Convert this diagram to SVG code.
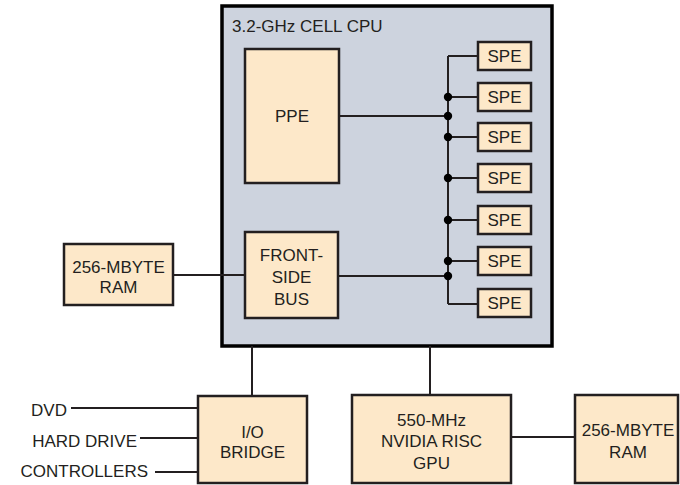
<svg xmlns="http://www.w3.org/2000/svg" width="680" height="485" viewBox="0 0 680 485">
<style>
text{font-family:"Liberation Sans",Arial,sans-serif;font-size:17px;fill:#231f20}
.c{text-anchor:middle}
.r{text-anchor:end}
.box{fill:#fde8c9;stroke:#231f20;stroke-width:2.5}
.ln{stroke:#231f20;stroke-width:2;fill:none}
.dot{fill:#000}
</style>
<rect width="680" height="485" fill="#fff"/>
<g id="cpu">
<rect x="222" y="6" width="330" height="340" fill="#cdd3de" stroke="#000" stroke-width="3.5"/>
<text x="232" y="32">3.2-GHz CELL CPU</text>
</g>
<g id="connectors">
<path class="ln" d="M448 56V304M448 56H478M448 304H478"/>
<path class="ln" d="M448 97H478M448 137H478M448 178H478M448 220H478M448 261H478"/>
<path class="ln" d="M339 116H448M338 276H448"/>
<path class="ln" d="M173 275H245"/>
<path class="ln" d="M252 346V396M430 346V395M511 437H575"/>
<path class="ln" d="M71 408H198M140 438H198M155 472H198"/>
<circle class="dot" cx="448" cy="97" r="4.2"/>
<circle class="dot" cx="448" cy="116" r="4.2"/>
<circle class="dot" cx="448" cy="137" r="4.2"/>
<circle class="dot" cx="448" cy="178" r="4.2"/>
<circle class="dot" cx="448" cy="220" r="4.2"/>
<circle class="dot" cx="448" cy="261" r="4.2"/>
<circle class="dot" cx="448" cy="276" r="4.2"/>
</g>
<g id="ppe"><rect class="box" x="245" y="49" width="94" height="134"/><text class="c" x="292" y="122">PPE</text></g>
<g id="fsb"><rect class="box" x="245" y="232" width="93" height="86"/>
<text class="c" x="291.5" y="261">FRONT-</text><text class="c" x="291.5" y="283">SIDE</text><text class="c" x="291.5" y="305">BUS</text></g>
<g id="ram1"><rect class="box" x="64" y="244" width="109" height="61"/>
<text class="c" x="118.5" y="273">256-MBYTE</text><text class="c" x="118.5" y="293">RAM</text></g>
<g id="spe1"><rect class="box" x="478" y="42" width="53" height="28"/><text class="c" x="504.5" y="62">SPE</text></g>
<g id="spe2"><rect class="box" x="478" y="83" width="53" height="28"/><text class="c" x="504.5" y="103">SPE</text></g>
<g id="spe3"><rect class="box" x="478" y="123" width="53" height="28"/><text class="c" x="504.5" y="143">SPE</text></g>
<g id="spe4"><rect class="box" x="478" y="164" width="53" height="28"/><text class="c" x="504.5" y="184">SPE</text></g>
<g id="spe5"><rect class="box" x="478" y="206" width="53" height="28"/><text class="c" x="504.5" y="226">SPE</text></g>
<g id="spe6"><rect class="box" x="478" y="247" width="53" height="28"/><text class="c" x="504.5" y="267">SPE</text></g>
<g id="spe7"><rect class="box" x="478" y="289" width="53" height="28"/><text class="c" x="504.5" y="309">SPE</text></g>
<g id="io"><rect class="box" x="198" y="396" width="109" height="87"/>
<text class="c" x="252.5" y="438">I/O</text><text class="c" x="252.5" y="458">BRIDGE</text></g>
<g id="gpu"><rect class="box" x="352" y="395" width="159" height="88"/>
<text class="c" x="431.5" y="426">550-MHz</text><text class="c" x="431.5" y="447">NVIDIA RISC</text><text class="c" x="431.5" y="469">GPU</text></g>
<g id="ram2"><rect class="box" x="575" y="395" width="103" height="88"/>
<text class="c" x="628" y="436">256-MBYTE</text><text class="c" x="628" y="458">RAM</text></g>
<g id="io-labels">
<text class="r" x="67" y="416">DVD</text>
<text class="r" x="137" y="447">HARD DRIVE</text>
<text class="r" x="148" y="477">CONTROLLERS</text>
</g>
</svg>
